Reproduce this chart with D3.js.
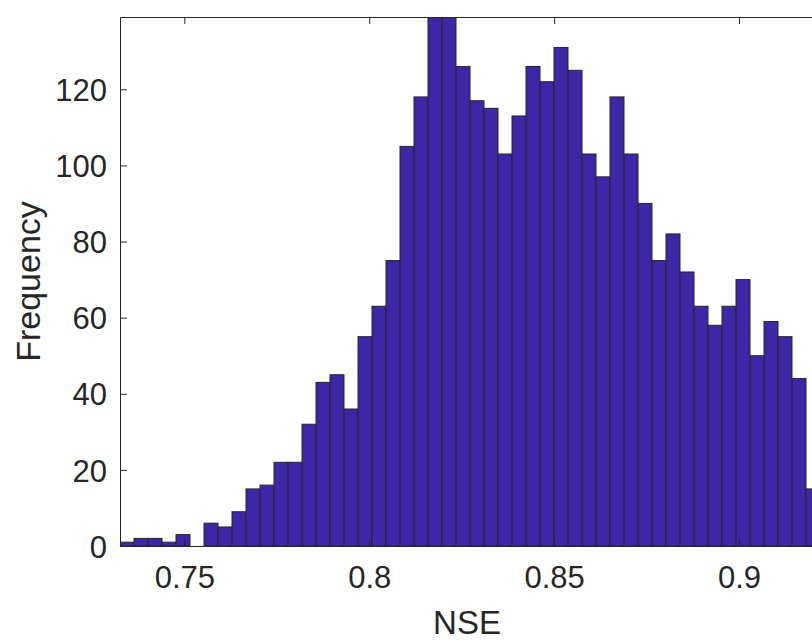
<!DOCTYPE html>
<html>
<head>
<meta charset="utf-8">
<script src="https://cdn.jsdelivr.net/npm/d3@7"></script>
<style>
  html, body { margin: 0; padding: 0; background: #fff; }
  svg { display: block; }
  text { font-family: Arial, "Liberation Sans", Helvetica, sans-serif; fill: #262626; }
</style>
</head>
<body>
<svg id="chart" width="812" height="642"></svg>
<script>
// histogram bins (NSE), counts
var binStart = 0.7326;
var binWidth = 0.003786;
var counts = [
    1, 2, 2, 1, 3, 0, 6, 5, 9, 15,
    16, 22, 22, 32, 43, 45, 36, 55, 63, 75,
    105, 118, 142, 140, 126, 117, 115, 103, 113, 126,
    122, 131, 125, 103, 97, 118, 103, 90, 75, 82,
    72, 63, 58, 63, 70, 50, 59, 55, 44, 15
];

var xDomain = [0.7326, 0.9219];
var yDomain = [0, 139];
var xTicks = [0.75, 0.8, 0.85, 0.9];
var yTicks = [0, 20, 40, 60, 80, 100, 120];

var xLabel = 'NSE',
    yLabel = 'Frequency';

var margin = {l: 120, t: 17, b: 96},
    plotW = 700,
    svg = d3.select('#chart'),
    height = +svg.attr('height'),
    plotH = height - margin.t - margin.b;

var x = d3.scaleLinear().domain(xDomain).range([margin.l, margin.l + plotW]);
var y = d3.scaleLinear().domain(yDomain).range([margin.t + plotH, margin.t]);

var bins = counts.map(function(c, i) {
    return {x0: binStart + i * binWidth, x1: binStart + (i + 1) * binWidth, n: c};
});

svg.append('defs').append('clipPath')
    .attr('id', 'plotClip')
    .append('rect')
    .attr('x', margin.l)
    .attr('y', margin.t)
    .attr('width', plotW)
    .attr('height', plotH);

svg.append('g')
    .attr('clip-path', 'url(#plotClip)')
    .selectAll('rect.bar')
    .data(bins.filter(function(d) { return d.n > 0; }))
    .enter().append('rect')
    .classed('bar', true)
    .attr('x', function(d) { return x(d.x0); })
    .attr('y', function(d) { return y(d.n); })
    .attr('width', function(d) { return x(d.x1) - x(d.x0); })
    .attr('height', function(d) { return y(0) - y(d.n); })
    .style('fill', 'rgb(62,38,168)')
    .style('stroke', '#262626')
    .style('stroke-width', '1px');

// axes: box with inward ticks, matlab style
var tickLen = 7,
    axisColor = '#262626';

var axisBottom = d3.axisBottom(x).tickValues(xTicks).tickSizeInner(-tickLen).tickSizeOuter(0)
    .tickFormat(d3.format('~g'));
var axisTop = d3.axisTop(x).tickValues(xTicks).tickSizeInner(-tickLen).tickSizeOuter(0)
    .tickFormat('');
var axisLeft = d3.axisLeft(y).tickValues(yTicks).tickSizeInner(-tickLen).tickSizeOuter(0);

function styleAxis(g) {
    g.selectAll('.domain').attr('stroke', axisColor).attr('stroke-width', 1);
    g.selectAll('.tick line').attr('stroke', axisColor).attr('stroke-width', 1);
    g.selectAll('.tick text')
        .attr('fill', axisColor)
        .style('font-size', '31px')
        .style('font-family', 'Arial, "Liberation Sans", sans-serif');
}

var gx = svg.append('g')
    .attr('transform', 'translate(0,' + (margin.t + plotH) + ')')
    .call(axisBottom)
    .call(styleAxis);
gx.selectAll('.tick text').attr('dy', null).attr('y', 42);

svg.append('g')
    .attr('transform', 'translate(0,' + margin.t + ')')
    .call(axisTop)
    .call(styleAxis);

var gy = svg.append('g')
    .attr('transform', 'translate(' + margin.l + ',0)')
    .call(axisLeft)
    .call(styleAxis);
gy.selectAll('.tick text').attr('x', -13).attr('dy', '0.36em');

svg.append('text')
    .attr('x', margin.l + plotW / 2 - 3)
    .attr('y', 634)
    .attr('text-anchor', 'middle')
    .style('font-size', '33px')
    .text(xLabel);

svg.append('text')
    .attr('transform', 'translate(40,' + (margin.t + plotH / 2) + ') rotate(-90)')
    .attr('text-anchor', 'middle')
    .style('font-size', '34px')
    .text(yLabel);
</script>
</body>
</html>
